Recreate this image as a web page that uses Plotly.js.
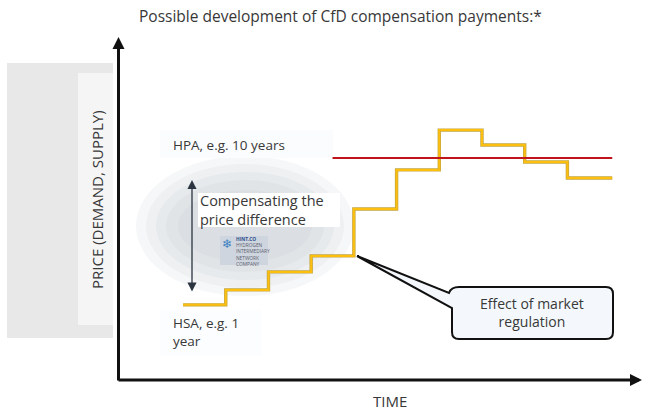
<!DOCTYPE html>
<html>
<head>
<meta charset="utf-8">
<script src="https://cdn.plot.ly/plotly-3.0.1.min.js"></script>
<style>
  html, body { margin: 0; padding: 0; background: #fff; }
  #chart { width: 645px; height: 414px; }
</style>
</head>
<body>
<div id="chart"></div>
<script>
// step profile of the market price over time (arbitrary units)
var stepTimes = [1.5, 2.5, 3.5, 4.5, 5.5, 6.5, 7.5, 8.5, 9.5, 10.5, 11.55];
var stepPrices = [22.1, 26.5, 31.8, 36.5, 50.3, 61.8, 73.5, 69.1, 64.1, 59.4, 59.4];

// HPA fixed price (long-term contract)
var hpaTimes = [5.0, 11.55];
var hpaPrices = [65.3, 65.3];

// plot area in pixels
var L = 119, R = 640, T = 40, B = 380;
function X(px) { return (px - L) / (R - L); }
function Y(py) { return (B - py) / (B - T); }

var font = "Open Sans, Liberation Sans, sans-serif";
var txt = "#383838";

var outline = {
  x: stepTimes, y: stepPrices, mode: "lines",
  line: {shape: "hv", color: "#c4a640", width: 3.4},
  hoverinfo: "skip"
};
var steps = {
  x: stepTimes, y: stepPrices, mode: "lines",
  line: {shape: "hv", color: "#fcbf10", width: 2},
  name: "Price"
};
var hpa = {
  x: hpaTimes, y: hpaPrices, mode: "lines",
  line: {color: "#c0141c", width: 2},
  name: "HPA"
};

var callout = "M" + X(357) + "," + Y(256) +
  " L" + X(449) + "," + Y(293) +
  " Q" + X(451) + "," + Y(287) + " " + X(459) + "," + Y(287) +
  " L" + X(606) + "," + Y(287) +
  " Q" + X(613) + "," + Y(287) + " " + X(613) + "," + Y(294) +
  " L" + X(613) + "," + Y(332) +
  " Q" + X(613) + "," + Y(339) + " " + X(606) + "," + Y(339) +
  " L" + X(459) + "," + Y(339) +
  " Q" + X(452) + "," + Y(339) + " " + X(452) + "," + Y(332) +
  " L" + X(452) + "," + Y(308) + " Z";

// soft haze behind the compensation arrow
var haze = [];
var rings = [[136, 354, 296, 156], [146, 344, 288, 164], [156, 334, 280, 172], [166, 324, 272, 180], [178, 312, 262, 190]];
rings.forEach(function (r) {
  haze.push({type: "circle", xref: "paper", yref: "paper", x0: X(r[0]), x1: X(r[1]), y0: Y(r[2]), y1: Y(r[3]),
    fillcolor: "rgba(185,192,202,0.13)", line: {width: 0}, layer: "below"});
});

var layout = {
  width: 645, height: 414,
  margin: {l: L, r: 645 - R, t: T, b: 414 - B},
  paper_bgcolor: "#fff", plot_bgcolor: "rgba(0,0,0,0)",
  showlegend: false,
  font: {family: font, color: txt},
  xaxis: {range: [0, 12.2], showgrid: false, zeroline: false, showticklabels: false, showline: false, fixedrange: true},
  yaxis: {range: [0, 100], showgrid: false, zeroline: false, showticklabels: false, showline: false, fixedrange: true},
  shapes: [
    {type: "rect", xref: "paper", yref: "paper", x0: X(7), x1: X(113), y0: Y(338), y1: Y(63),
     fillcolor: "#e8e8e8", line: {width: 0}, layer: "below"},
    {type: "rect", xref: "paper", yref: "paper", x0: X(78), x1: X(113), y0: Y(325), y1: Y(73),
     fillcolor: "#f5f5f5", line: {width: 0}, layer: "below"}
  ].concat(haze).concat([
    {type: "rect", xref: "paper", yref: "paper", x0: X(160), x1: X(333), y0: Y(158), y1: Y(130),
     fillcolor: "#fbfcfd", line: {width: 0}, layer: "below"},
    {type: "rect", xref: "paper", yref: "paper", x0: X(198), x1: X(340), y0: Y(227), y1: Y(193),
     fillcolor: "#ffffff", line: {width: 0}, layer: "below"},
    {type: "rect", xref: "paper", yref: "paper", x0: X(160), x1: X(262), y0: Y(356), y1: Y(310),
     fillcolor: "#fcfdfe", line: {width: 0}, layer: "below"},
    {type: "rect", xref: "paper", yref: "paper", x0: X(220), x1: X(268), y0: Y(265), y1: Y(236),
     fillcolor: "#cfd5de", line: {width: 0}},
    {type: "path", xref: "paper", yref: "paper", path: callout,
     fillcolor: "#f4f8fc", line: {color: "#111", width: 2}}
  ]),
  annotations: [
    {xref: "paper", yref: "paper", x: X(340), y: Y(16), text: "Possible development of CfD compensation payments:*",
     showarrow: false, font: {size: 15.5, color: txt}, xanchor: "center", yanchor: "middle"},
    // axes
    {xref: "paper", yref: "paper", x: X(642), y: Y(380), ax: -525, ay: 0, text: "",
     showarrow: true, arrowhead: 2, arrowsize: 0.8, arrowwidth: 3, arrowcolor: "#111"},
    {xref: "paper", yref: "paper", x: X(118.5), y: Y(37), ax: 0, ay: 345, text: "",
     showarrow: true, arrowhead: 2, arrowsize: 0.8, arrowwidth: 3, arrowcolor: "#111"},
    {xref: "paper", yref: "paper", x: X(97), y: Y(200), text: "PRICE (DEMAND, SUPPLY)", textangle: -90,
     showarrow: false, font: {size: 15, color: txt}, xanchor: "center", yanchor: "middle"},
    {xref: "paper", yref: "paper", x: X(390), y: Y(401), text: "TIME",
     showarrow: false, font: {size: 15, color: txt}, xanchor: "center", yanchor: "middle"},
    // labels
    {xref: "paper", yref: "paper", x: X(171), y: Y(145), text: "HPA, e.g. 10 years",
     showarrow: false, font: {size: 13.5, color: txt}, xanchor: "left", yanchor: "middle"},
    {xref: "paper", yref: "paper", x: X(171), y: Y(332), text: "HSA, e.g. 1<br>year", align: "left",
     showarrow: false, font: {size: 13.5, color: txt}, xanchor: "left", yanchor: "middle"},
    {xref: "paper", yref: "paper", x: X(198), y: Y(210), text: "Compensating the<br>price difference", align: "left",
     showarrow: false, font: {size: 14.5, color: txt}, xanchor: "left", yanchor: "middle"},
    {xref: "paper", yref: "paper", x: X(192), y: Y(180), ax: 0, ay: 113, text: "",
     showarrow: true, arrowhead: 2, arrowsize: 1.4, arrowwidth: 1.3, arrowside: "end+start", arrowcolor: "#2b3440"},
    {xref: "paper", yref: "paper", x: X(227), y: Y(243), text: "❄",
     showarrow: false, font: {size: 12, color: "#3d7fc4"}, xanchor: "center", yanchor: "middle"},
    {xref: "paper", yref: "paper", x: X(234), y: Y(251),
     text: "<b style='color:#2c4f8a'>HINT.CO</b><br>HYDROGEN<br>INTERMEDIARY<br>NETWORK<br>COMPANY",
     align: "left", showarrow: false,
     font: {size: 4.8, color: "#5a6070"}, xanchor: "left", yanchor: "middle"},
    {xref: "paper", yref: "paper", x: X(532), y: Y(312), text: "Effect of market<br>regulation",
     showarrow: false, font: {size: 14, color: txt}, xanchor: "center", yanchor: "middle"}
  ]
};

Plotly.newPlot("chart", [outline, steps, hpa], layout, {displayModeBar: false, staticPlot: true});
</script>
</body>
</html>
